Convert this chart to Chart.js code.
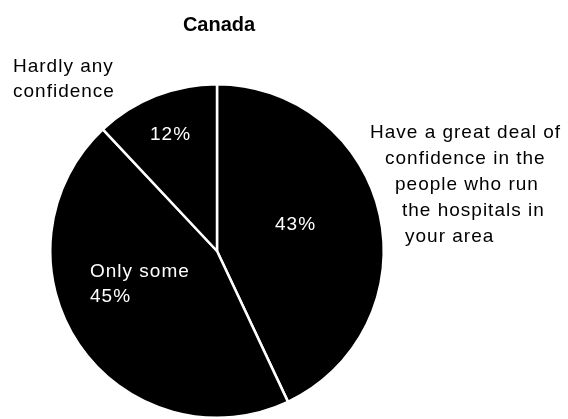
<!DOCTYPE html>
<html>
<head>
<meta charset="utf-8">
<script src="https://cdn.jsdelivr.net/npm/chart.js@4/dist/chart.umd.min.js"></script>
<style>
  html, body { margin: 0; padding: 0; background: #fff; }
  #wrap { width: 568px; height: 419px; position: relative; }
</style>
</head>
<body>
<div id="wrap"><canvas id="pie-chart"></canvas></div>
<script>
var title = "Canada",
    categories = [ "Have a great deal of confidence in the people who run the hospitals in your area", "Only some", "Hardly any confidence" ],
    shares = [ 43, 45, 12 ],
    black = "rgba(0,0,0,1)",
    white = "rgba(255,255,255,1)",
    labelFont = "19px 'Liberation Sans', Arial, sans-serif";

// text placed around / on the pie, like in the printed figure
var textPlugin = {
    id: "figureText",
    afterDraw: function (chart) {
        var ctx = chart.ctx;
        ctx.save();
        ctx.textBaseline = "alphabetic";
        ctx.textAlign = "center";
        ctx.fillStyle = black;
        ctx.letterSpacing = "0px";
        ctx.font = "bold 20px 'Liberation Sans', Arial, sans-serif";
        ctx.fillText(title, 219, 31);

        ctx.textAlign = "left";
        ctx.font = labelFont;
        ctx.letterSpacing = "1px";
        ctx.fillText("Hardly any", 13, 72);
        ctx.fillText("confidence", 13, 97);

        ctx.fillText("Have a great deal of", 370, 138);
        ctx.fillText("confidence in the", 385, 164);
        ctx.fillText("people who run", 395, 190);
        ctx.fillText("the hospitals in", 402, 216);
        ctx.fillText("your area", 405, 242);

        ctx.fillStyle = white;
        ctx.fillText(shares[2] + "%", 150, 140);
        ctx.fillText(shares[0] + "%", 275, 230);
        ctx.fillText("Only some", 90, 277);
        ctx.fillText(shares[1] + "%", 90, 302);
        ctx.restore();
    }
};

var ctx = document.getElementById("pie-chart").getContext("2d");
new Chart(ctx, {
    type: "pie",
    data: {
        labels: categories,
        datasets: [ {
            data           : shares,
            backgroundColor: black,
            borderColor    : white,
            borderWidth    : 2.5,
            hoverOffset    : 0
        } ]
    },
    options: {
        responsive: true,
        maintainAspectRatio: false,
        animation: false,
        events: [],
        layout: { padding: { left: 48, right: 182, top: 83, bottom: -3 } },
        plugins: {
            legend : { display: false },
            tooltip: { enabled: false },
            title  : { display: false }
        }
    },
    plugins: [ textPlugin ]
});
</script>
</body>
</html>
